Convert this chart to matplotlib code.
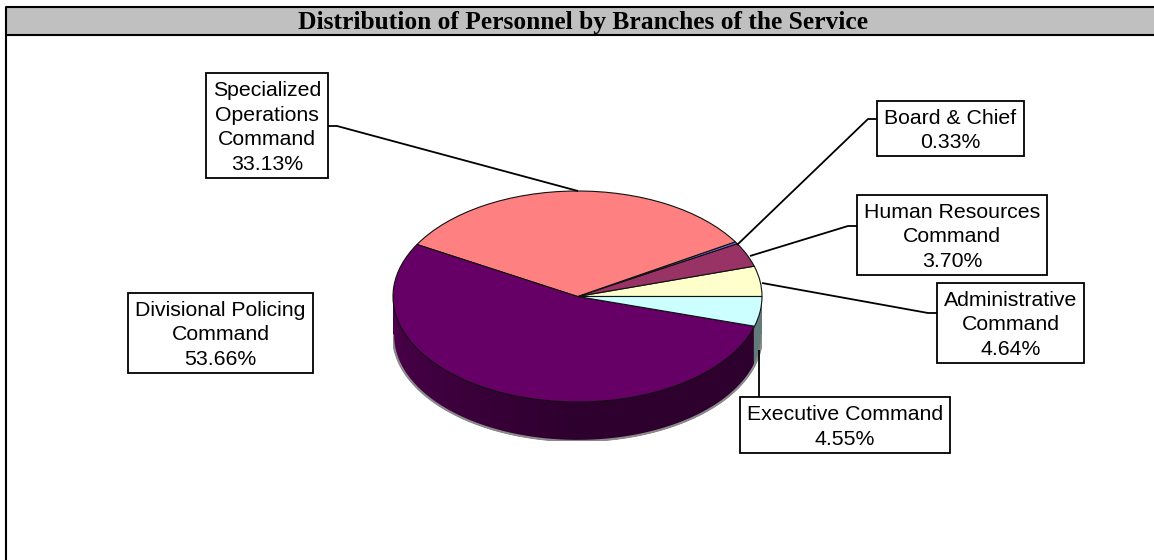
import numpy as np
import matplotlib
matplotlib.use("Agg")
import matplotlib.pyplot as plt

# slice order follows the pie, counterclockwise from 3 o'clock
names = ["Administrative\nCommand", "Human Resources\nCommand", "Board & Chief",
         "Specialized\nOperations\nCommand", "Divisional Policing\nCommand", "Executive Command"]
shares = [4.64, 3.70, 0.33, 33.13, 53.66, 4.55]
colors = ["#FFFFCC", "#993366", "#6F6FE0", "#FF8080", "#660066", "#CCFFFF"]
title = "Distribution of Personnel by Branches of the Service"

W, H = 1154, 560
CX0, CX1 = 393, 762      # pie ellipse, pixels
TOP, FACE_BOTTOM, WALL_BOTTOM = 191, 402, 441
LINE_STEP = 24.7         # label line spacing, pixels

# box: left, right, top, bottom; leader: points from box to pie
boxes = [(937, 1084, 283, 363), (857, 1047, 195, 275), (877, 1024, 101, 156),
         (206, 328, 73, 178), (128, 313, 293, 373), (740, 950, 397, 453)]
leaders = [[(937, 313), (928, 313), (762, 283)],
           [(857, 226), (848, 226), (750, 256)],
           [(877, 119), (868, 119), (737, 245)],
           [(328, 126), (337, 126), (578, 191)],
           None,
           [(759, 397), (759, 350)]]

fig = plt.figure(figsize=(W / 100, H / 100), dpi=100)
bg = fig.add_axes([0, 0, 1, 1])
bg.set_xlim(0, W)
bg.set_ylim(H, 0)
bg.axis("off")

# header band and the frame
bg.fill_between([6, W], 7, 34.5, color="#C0C0C0", lw=0)
bg.plot([W, 6, 6], [7, 7, H], color="black", lw=1.5, solid_capstyle="butt")
bg.plot([6, W], [34.5, 34.5], color="black", lw=1.5, solid_capstyle="butt")
bg.text((298 + 869) / 2, 22, title, family="Liberation Serif", weight="bold",
        fontsize=18.4, ha="center", va="center", color="black")

# pie gets its own axes, squashed so a unit circle becomes the ellipse
ry = (FACE_BOTTOM - TOP) / 2
ax = fig.add_axes([CX0 / W, 1 - WALL_BOTTOM / H, (CX1 - CX0) / W, (WALL_BOTTOM - TOP) / H])
ax.patch.set_alpha(0)

# side wall, front half only, shaded strip by strip
edges = np.cumsum([0] + shares) / sum(shares) * 360
depth = (WALL_BOTTOM - FACE_BOTTOM) / ry
t = np.radians(np.linspace(180, 360, 120))
ax.plot(np.cos(t), np.sin(t) - depth, color="#8A8A8A", lw=1.6)
for i, col in enumerate(colors):
    a0, a1 = max(edges[i], 180), edges[i + 1]
    if a1 <= a0:
        continue
    base = np.array(matplotlib.colors.to_rgb(col))
    steps = np.arange(a0, a1, 3.0).tolist() + [a1]
    for s0, s1 in zip(steps[:-1], steps[1:]):
        tt = np.radians(np.linspace(s0, s1, 5))
        mid = (s0 + s1) / 2
        if col == "#660066":
            f = 0.76 - 0.32 * min((mid - 180) / 90, 1)
        else:
            f = 0.48
        x = np.cos(tt)
        y = np.sin(tt)
        ax.fill(np.r_[x, x[::-1]], np.r_[y, y[::-1] - depth], color=base * f, lw=1.0)

ax.pie(shares, colors=colors, startangle=0, counterclock=True, radius=1,
       wedgeprops=dict(edgecolor="#111111", linewidth=0.8))
ax.set_aspect("auto")
ax.set_xlim(-1, 1)
ax.set_ylim(-1 - depth, 1)
ax.axis("off")

# leaders and labels on top of everything
fg = fig.add_axes([0, 0, 1, 1])
fg.set_xlim(0, W)
fg.set_ylim(H, 0)
fg.axis("off")
for name, share, box, pts in zip(names, shares, boxes, leaders):
    if pts:
        xs, ys = zip(*pts)
        fg.plot(xs, ys, color="black", lw=1.3, solid_capstyle="butt")
    l, r, top, bot = box
    fg.fill([l, r, r, l], [top, top, bot, bot], facecolor="white", edgecolor="black", lw=1.3)
    # one text per line, matplotlib's multiline spacing comes out uneven here
    lines = f"{name}\n{share:.2f}%".split("\n")
    for k, line in enumerate(lines):
        base_y = (top + bot) / 2 + (k - (len(lines) - 1) / 2) * LINE_STEP + 7.4
        fg.text((l + r) / 2, base_y, line, family="Liberation Sans", fontsize=15.3,
                ha="center", va="baseline", color="black")

fig.savefig("out.png", dpi=100)
